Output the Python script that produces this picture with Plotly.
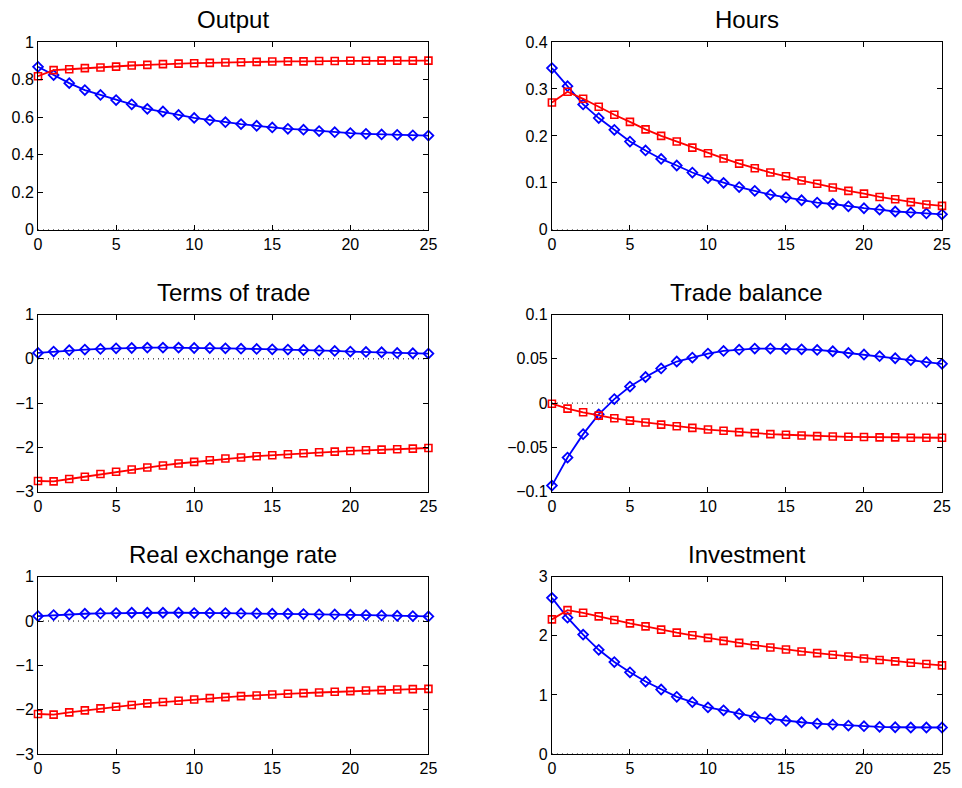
import plotly.graph_objects as go

periods = list(range(26))

titles = ["Output", "Hours", "Terms of trade", "Trade balance", "Real exchange rate", "Investment"]

output_blue = [0.868, 0.824, 0.781, 0.744, 0.718, 0.691, 0.668, 0.644, 0.630, 0.612, 0.596, 0.584, 0.573,
               0.563, 0.554, 0.545, 0.538, 0.533, 0.526, 0.520, 0.515, 0.511, 0.508, 0.506, 0.503, 0.502]
output_red = [0.818, 0.850, 0.855, 0.861, 0.864, 0.869, 0.875, 0.878, 0.882, 0.885, 0.887, 0.889, 0.891,
              0.892, 0.894, 0.896, 0.897, 0.897, 0.899, 0.899, 0.900, 0.900, 0.901, 0.901, 0.901, 0.901]

hours_blue = [0.3445, 0.306, 0.267, 0.238, 0.213, 0.188, 0.169, 0.151, 0.137, 0.122, 0.110, 0.100, 0.091,
              0.083, 0.075, 0.069, 0.063, 0.058, 0.055, 0.050, 0.046, 0.043, 0.039, 0.037, 0.035, 0.033]
hours_red = [0.271, 0.294, 0.279, 0.262, 0.245, 0.230, 0.214, 0.200, 0.188, 0.175, 0.163, 0.152, 0.141,
             0.131, 0.122, 0.114, 0.105, 0.098, 0.090, 0.083, 0.077, 0.070, 0.065, 0.059, 0.054, 0.051]

tot_blue = [0.134, 0.164, 0.194, 0.209, 0.224, 0.239, 0.246, 0.254, 0.254, 0.254, 0.246, 0.246, 0.239,
            0.231, 0.224, 0.216, 0.209, 0.200, 0.187, 0.179, 0.164, 0.157, 0.149, 0.134, 0.127, 0.119]
tot_red = [-2.761, -2.769, -2.716, -2.664, -2.604, -2.552, -2.500, -2.455, -2.410, -2.366, -2.328, -2.291,
           -2.254, -2.231, -2.201, -2.179, -2.157, -2.134, -2.112, -2.097, -2.082, -2.067, -2.052, -2.045,
           -2.030, -2.015]

tb_blue = [-0.0933, -0.0616, -0.0351, -0.0127, 0.0045, 0.0187, 0.0295, 0.0392, 0.0470, 0.0515, 0.0560,
           0.0590, 0.0604, 0.0616, 0.0616, 0.0612, 0.0608, 0.0601, 0.0586, 0.0567, 0.0549, 0.0530, 0.0507,
           0.0485, 0.0463, 0.0444]
tb_red = [-0.0007, -0.0063, -0.0104, -0.0142, -0.0172, -0.0198, -0.0220, -0.0243, -0.0261, -0.0280, -0.0299,
          -0.0313, -0.0328, -0.0340, -0.0351, -0.0358, -0.0366, -0.0373, -0.0377, -0.0381, -0.0384, -0.0388,
          -0.0388, -0.0392, -0.0392, -0.0392]

rer_blue = [0.112, 0.134, 0.149, 0.164, 0.172, 0.179, 0.187, 0.187, 0.187, 0.187, 0.179, 0.179, 0.179,
            0.172, 0.172, 0.164, 0.164, 0.157, 0.149, 0.149, 0.142, 0.134, 0.127, 0.119, 0.112, 0.104]
rer_red = [-2.097, -2.112, -2.060, -2.015, -1.970, -1.933, -1.896, -1.858, -1.828, -1.799, -1.769, -1.739,
           -1.716, -1.694, -1.679, -1.657, -1.642, -1.627, -1.612, -1.597, -1.582, -1.567, -1.560, -1.545,
           -1.537, -1.530]

inv_blue = [2.642, 2.306, 2.020, 1.763, 1.556, 1.382, 1.226, 1.091, 0.968, 0.879, 0.789, 0.739, 0.677,
            0.627, 0.593, 0.560, 0.537, 0.515, 0.498, 0.481, 0.470, 0.459, 0.453, 0.448, 0.448, 0.448]
inv_red = [2.278, 2.435, 2.390, 2.328, 2.267, 2.211, 2.160, 2.104, 2.054, 2.009, 1.965, 1.914, 1.881,
           1.841, 1.802, 1.769, 1.735, 1.707, 1.679, 1.651, 1.617, 1.590, 1.567, 1.545, 1.522, 1.500]

blue_series = [output_blue, hours_blue, tot_blue, tb_blue, rer_blue, inv_blue]
red_series = [output_red, hours_red, tot_red, tb_red, rer_red, inv_red]
y_ranges = [[0, 1], [0, 0.4], [-3, 1], [-0.1, 0.1], [-3, 1], [0, 3]]
y_dticks = [0.2, 0.1, 1, 0.05, 1, 1]
x_ticks = [0, 5, 10, 15, 20, 25]

FONT = "Liberation Sans, Arial, Helvetica, sans-serif"

x_domains = [[0.0, 0.4319], [0.5685, 1.0]]
y_domains = [[0.7362, 1.0], [0.3686, 0.6171], [0.0, 0.2490]]

fig = go.Figure()
layout = dict(
    width=962, height=788,
    margin=dict(l=38, r=11, t=42, b=27),
    paper_bgcolor="white", plot_bgcolor="white",
    showlegend=False,
    font=dict(family=FONT, size=16, color="black"),
)
annotations = []
for i in range(6):
    row, col = divmod(i, 2)
    n = i + 1
    xa = "x" if n == 1 else f"x{n}"
    ya = "y" if n == 1 else f"y{n}"
    # zero dotted line
    fig.add_trace(go.Scatter(x=[periods[0], periods[-1]], y=[0, 0], mode="lines",
                             line=dict(color="black", width=1, dash="1px,4px"),
                             xaxis=xa, yaxis=ya, hoverinfo="skip"))
    fig.add_trace(go.Scatter(x=periods, y=blue_series[i], mode="lines+markers",
                             line=dict(color="#0000ff", width=1.8),
                             marker=dict(symbol="diamond-open", size=7.5, color="#0000ff",
                                         line=dict(width=1.8, color="#0000ff")),
                             cliponaxis=False, xaxis=xa, yaxis=ya))
    fig.add_trace(go.Scatter(x=periods, y=red_series[i], mode="lines+markers",
                             line=dict(color="#ff0000", width=1.8),
                             marker=dict(symbol="square-open", size=7, color="#ff0000",
                                         line=dict(width=1.6, color="#ff0000")),
                             cliponaxis=False, xaxis=xa, yaxis=ya))
    axcommon = dict(showline=True, linecolor="black", linewidth=1, mirror="allticks",
                    ticks="inside", ticklen=5, tickcolor="black", showgrid=False,
                    zeroline=False, tickfont=dict(family=FONT, size=16, color="black"))
    layout["xaxis" if n == 1 else f"xaxis{n}"] = dict(
        domain=x_domains[col], anchor=ya, range=[0, 25], tickvals=x_ticks, **axcommon)
    layout["yaxis" if n == 1 else f"yaxis{n}"] = dict(
        domain=y_domains[row], anchor=xa, range=y_ranges[i], dtick=y_dticks[i],
        tick0=0, **axcommon)
    annotations.append(dict(text=titles[i], xref="paper", yref="paper",
                            x=sum(x_domains[col]) / 2, y=y_domains[row][1],
                            xanchor="center", yanchor="bottom", yshift=7, showarrow=False,
                            font=dict(family=FONT, size=24, color="black")))
layout["annotations"] = annotations
fig.update_layout(**layout)
fig.write_html("out.html")
